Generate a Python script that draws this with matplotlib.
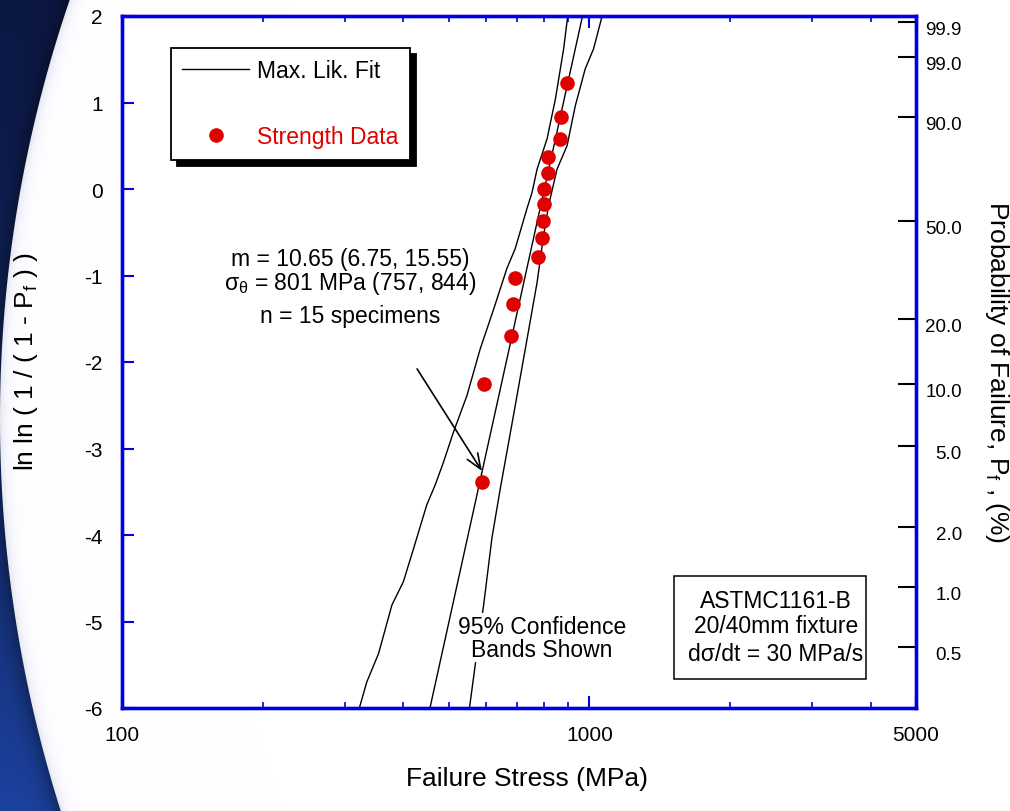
import numpy as np
import matplotlib
matplotlib.use('Agg')
import matplotlib.pyplot as plt
from matplotlib.patches import Rectangle
from matplotlib.ticker import FixedLocator, FixedFormatter, NullFormatter
from matplotlib import transforms

plt.rcParams['font.family'] = ['Liberation Sans', 'DejaVu Sans']
plt.rcParams['mathtext.fontset'] = 'custom'
plt.rcParams['mathtext.rm'] = 'Liberation Sans'
plt.rcParams['mathtext.it'] = 'Liberation Sans:italic'
plt.rcParams['mathtext.sf'] = 'Liberation Sans'
plt.rcParams['axes.unicode_minus'] = False

# ---------------- data ----------------
strength = [589, 595, 680, 686, 692, 777, 793, 797, 798, 800, 814, 815, 864, 871, 896]
lnln_pf = [-3.384, -2.250, -1.702, -1.325, -1.031, -0.784, -0.566, -0.367,
           -0.179, 0.003, 0.186, 0.375, 0.583, 0.834, 1.224]

fit_stress = [456, 967]
fit_lnln = [-6.0, 2.0]

lower_stress = [322, 334, 354, 378, 400, 421, 449, 468, 488, 512, 547, 584,
                624, 666, 694, 735, 754, 773, 812, 846, 881, 899]
lower_lnln = [-6.0, -5.70, -5.37, -4.81, -4.54, -4.15, -3.65, -3.42, -3.15,
              -2.81, -2.39, -1.85, -1.39, -0.92, -0.69, -0.23, -0.04, 0.23,
              0.58, 1.04, 1.62, 2.0]

upper_stress = [554, 570, 594, 619, 645, 688, 736, 773, 798, 818, 853, 896,
                933, 980, 1021, 1065]
upper_lnln = [-6.0, -5.50, -4.81, -4.03, -3.46, -2.62, -1.73, -1.08, -0.54,
              -0.19, 0.23, 0.50, 0.96, 1.39, 1.62, 2.0]

y_ticks = [-6, -5, -4, -3, -2, -1, 0, 1, 2]
y_ticklabels = ['-6', '-5', '-4', '-3', '-2', '-1', '0', '1', '2']
x_major = [100, 1000, 5000]
x_major_labels = ['100', '1000', '5000']
x_minor = [200, 300, 400, 500, 600, 700, 800, 900, 2000, 3000, 4000]
prob_pct = [99.9, 99.0, 90.0, 50.0, 20.0, 10.0, 5.0, 2.0, 1.0, 0.5]
prob_labels = ['99.9', '99.0', '90.0', '50.0', '20.0', '10.0', '5.0', '2.0', '1.0', '0.5']

BLUE = '#0000e0'
RED = '#e00000'

W, H = 1010, 812
fig = plt.figure(figsize=(W / 100, H / 100), dpi=100)
fig.patch.set_facecolor('white')

# ---------------- decorative slide background (left edge) ----------------
bg = fig.add_axes([0, 0, 1, 1], zorder=-10)
yy, xx = np.mgrid[0:H, 0:W] + 0.5
cx, cy, R = 1295.0, 420.0, 1295.0
d = np.hypot(xx - cx, yy - cy) - R
t = (yy / H) ** 1.4
top_c = np.array([12, 24, 68]) / 255.0
bot_c = np.array([28, 66, 160]) / 255.0
base = top_c * (1 - t[..., None]) + bot_c * t[..., None]
shade = 1 - 0.35 * np.exp(-np.clip(d, 0, None) / 10.0)
outside = base * shade[..., None]
inside_v = 1 - 0.10 * np.exp(np.clip(d, None, 0) / 6.0)
inside = np.stack([inside_v, inside_v, np.minimum(inside_v + 0.03, 1)], axis=-1)
a = np.clip(d + 0.5, 0, 1)[..., None]
img = outside * a + inside * (1 - a)
bg.imshow(img, extent=[0, W, H, 0], aspect='auto', interpolation='bilinear')
bg.axis('off')

# ---------------- main axes ----------------
ax = fig.add_axes([122 / W, 1 - 709 / H, 794 / W, 692 / H])
ax.set_facecolor('white')
ax.set_xscale('log')
ax.set_xlim(100, 5000)
ax.set_ylim(-6, 2)

# confidence bands and fit
ax.plot(lower_stress, lower_lnln, color='black', lw=1.0, zorder=2)
ax.plot(upper_stress, upper_lnln, color='black', lw=1.0, zorder=2)
fit_line, = ax.plot(fit_stress, fit_lnln, color='black', lw=1.0, zorder=2,
                    label='Max. Lik. Fit')
pts, = ax.plot(strength, lnln_pf, 'o', color=RED, mec=RED, ms=9.5, zorder=4,
               label='Strength Data')

for s in ax.spines.values():
    s.set_color(BLUE)
    s.set_linewidth(2.4)

ax.xaxis.set_major_locator(FixedLocator(x_major))
ax.xaxis.set_major_formatter(FixedFormatter(x_major_labels))
ax.xaxis.set_minor_locator(FixedLocator(x_minor))
ax.xaxis.set_minor_formatter(NullFormatter())
ax.tick_params(axis='x', which='major', direction='in', length=8.6, width=1.5,
               color=BLUE, top=True, bottom=True, labelsize=15, pad=12.5)
ax.tick_params(axis='x', which='minor', direction='in', length=4.3, width=1.2,
               color=BLUE, top=True, bottom=True)

ax.yaxis.set_major_locator(FixedLocator(y_ticks))
ax.yaxis.set_major_formatter(FixedFormatter(y_ticklabels))
ax.tick_params(axis='y', which='major', direction='in', length=8.6, width=1.5,
               color=BLUE, left=True, right=False, labelsize=15, pad=14)
ax.tick_params(axis='y', which='minor', left=False, right=False)

# right probability axis
ax2 = ax.twinx()
ax2.set_ylim(-6, 2)
prob_pos = np.log(np.log(1.0 / (1.0 - np.array(prob_pct) / 100.0)))
ax2.yaxis.set_major_locator(FixedLocator(prob_pos))
ax2.yaxis.set_major_formatter(FixedFormatter(prob_labels))
ax2.yaxis.set_minor_locator(FixedLocator([]))
ax2.tick_params(axis='y', which='major', direction='in', length=13, width=1.5,
                color='black', labelsize=13.5, pad=33)
shift_down = transforms.ScaledTranslation(0, -4 / 72, fig.dpi_scale_trans)
for lbl in ax2.get_yticklabels():
    lbl.set_horizontalalignment('right')
    lbl.set_transform(lbl.get_transform() + shift_down)
for s in ax2.spines.values():
    s.set_color(BLUE)
    s.set_linewidth(2.4)

# legend with offset black shadow
leg = ax.legend(handles=[fit_line, pts], loc='upper left',
                bbox_to_anchor=((170.7 - 122) / 794, (709 - 49) / 692),
                borderaxespad=0, fontsize=16.5, handlelength=2.93,
                handletextpad=0.35, labelspacing=1.86, borderpad=0.5,
                numpoints=1, fancybox=False, edgecolor='black', framealpha=1,
                shadow={'ox': 4.3, 'oy': -4.3, 'color': 'black', 'alpha': 1})
leg.get_frame().set_linewidth(1.3)
leg.get_texts()[1].set_color(RED)

# Weibull parameters text
tx = (350 - 122) / 794
ax.text(tx, 0.6406, 'm = 10.65 (6.75, 15.55)', transform=ax.transAxes,
        ha='center', va='baseline', fontsize=16.5)
ax.text(tx, 0.6055, 'σ$_\\mathrm{θ}$ = 801 MPa (757, 844)', transform=ax.transAxes,
        ha='center', va='baseline', fontsize=16.5)
ax.text(tx, 0.5574, 'n = 15 specimens', transform=ax.transAxes,
        ha='center', va='baseline', fontsize=16.5)

# arrow to lowest strength specimen
ax.annotate('', xy=(strength[0], -3.26), xytext=(428, -2.08),
            arrowprops=dict(arrowstyle='->,head_length=0.55,head_width=0.22',
                            color='black', lw=1.2, mutation_scale=20,
                            shrinkA=0, shrinkB=0))

# confidence band note
cxn = (542 - 122) / 794
ax.text(cxn, 0.1088, '95% Confidence', transform=ax.transAxes, ha='center',
        va='baseline', fontsize=16.5, zorder=3,
        bbox=dict(facecolor='white', edgecolor='none', pad=1.0))
ax.text(cxn, 0.0756, 'Bands Shown', transform=ax.transAxes, ha='center',
        va='baseline', fontsize=16.5, zorder=3,
        bbox=dict(facecolor='white', edgecolor='none', pad=1.0))

# test condition box
bx0, bx1 = (674 - 122) / 794, (865.7 - 122) / 794
by0, by1 = (709 - 680) / 692, (709 - 577) / 692
ax.add_patch(Rectangle((bx0, by0), bx1 - bx0, by1 - by0, transform=ax.transAxes,
                       facecolor='white', edgecolor='black', lw=1.1, zorder=3))
bcx = (775.8 - 122) / 794
ax.text(bcx, 0.1464, 'ASTMC1161-B', transform=ax.transAxes, ha='center',
        va='baseline', fontsize=16.5, zorder=4)
ax.text(bcx, 0.1103, '20/40mm fixture', transform=ax.transAxes, ha='center',
        va='baseline', fontsize=16.5, zorder=4)
ax.text(bcx, 0.0694, 'dσ/dt = 30 MPa/s', transform=ax.transAxes, ha='center',
        va='baseline', fontsize=16.5, zorder=4)

# axis titles
fig.text(527.5 / W, 1 - 786 / H, 'Failure Stress (MPa)', ha='center',
         va='baseline', fontsize=19)
fig.text(26 / W, 1 - 361 / H, 'ln ln ( 1 / ( 1 - P$_\\mathrm{f}$ ) )', rotation=90,
         ha='center', va='center', fontsize=19)
fig.text(997 / W, 1 - 372 / H, 'Probability of Failure, P$_\\mathrm{f}$ , (%)',
         rotation=270, ha='center', va='center', fontsize=19)

fig.savefig('out.png', dpi=100)
